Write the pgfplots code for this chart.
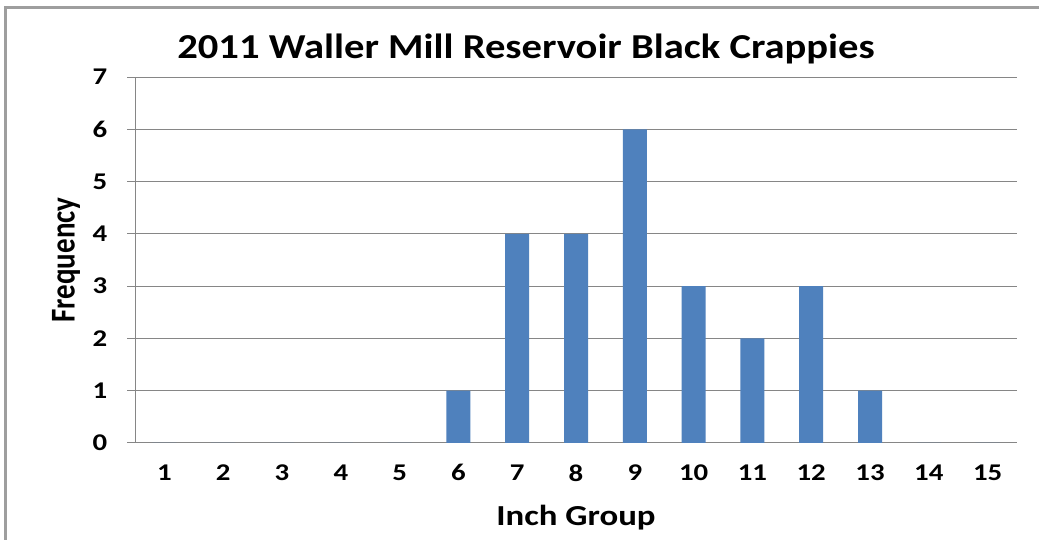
\documentclass[border=0pt]{standalone}
\usepackage{graphicx}
\usepackage{pgfplots}
\pgfplotsset{compat=1.18}
\usepackage{fontspec}
\setmainfont{Carlito}
\definecolor{barblue}{HTML}{4F81BD}
\definecolor{gridgray}{HTML}{868686}
\begin{document}
\begin{tikzpicture}[x=1pt,y=1pt]
\path[use as bounding box] (0,0) rectangle (1039,540);
\fill[white] (0,0) rectangle (1039,540);
\draw[gridgray!80, line width=3pt] (5,-5) -- (5,532) -- (1045,532);
\node[font=\bfseries\fontsize{35}{40}\selectfont, xscale=1.16] at (526,491) {2011 Waller Mill Reservoir Black Crappies};
\begin{axis}[
  at={(135pt,97pt)}, anchor=origin,
  scale only axis, width=882pt, height=366pt,
  xmin=0.5, xmax=15.5, ymin=0, ymax=7,
  ybar, bar width=24pt, bar shift=0pt,
  axis x line*=bottom, axis y line*=left,
  axis line style={gridgray, line width=1pt},
  xtick={1,...,15}, ytick={0,...,7},
  extra x ticks={0.5,1.5,...,15.5}, extra x tick labels={},
  extra x tick style={major tick length=7pt, tick style={gridgray, line width=1pt}, grid=none},
  major x tick style={draw=none},
  major tick length=8pt,
  y tick style={gridgray, line width=1pt},
  tick align=outside,
  ymajorgrids, grid style={gridgray, line width=1pt},
  /pgf/number format/assume math mode=true,
  ticklabel style={font=\bfseries\fontsize{24}{26}\selectfont, xscale=1.2},
  xticklabel style={yshift=-10pt},
  yticklabel style={xshift=-13pt},
  xlabel={\scalebox{1.2}[1]{Inch Group}}, ylabel={\scalebox{1}[1.2]{Frequency}},
  label style={font=\bfseries\fontsize{29}{32}\selectfont},
  xlabel style={at={(axis description cs:0.5,0)}, anchor=center, yshift=-75pt},
  ylabel style={at={(axis description cs:-0.0782,0.5)}, anchor=center},
]
\addplot[fill=barblue, draw=none] coordinates {
(1,0) (2,0) (3,0) (4,0) (5,0) (6,1) (7,4) (8,4) (9,6) (10,3) (11,2) (12,3) (13,1) (14,0) (15,0)};
\end{axis}
\end{tikzpicture}
\end{document}
